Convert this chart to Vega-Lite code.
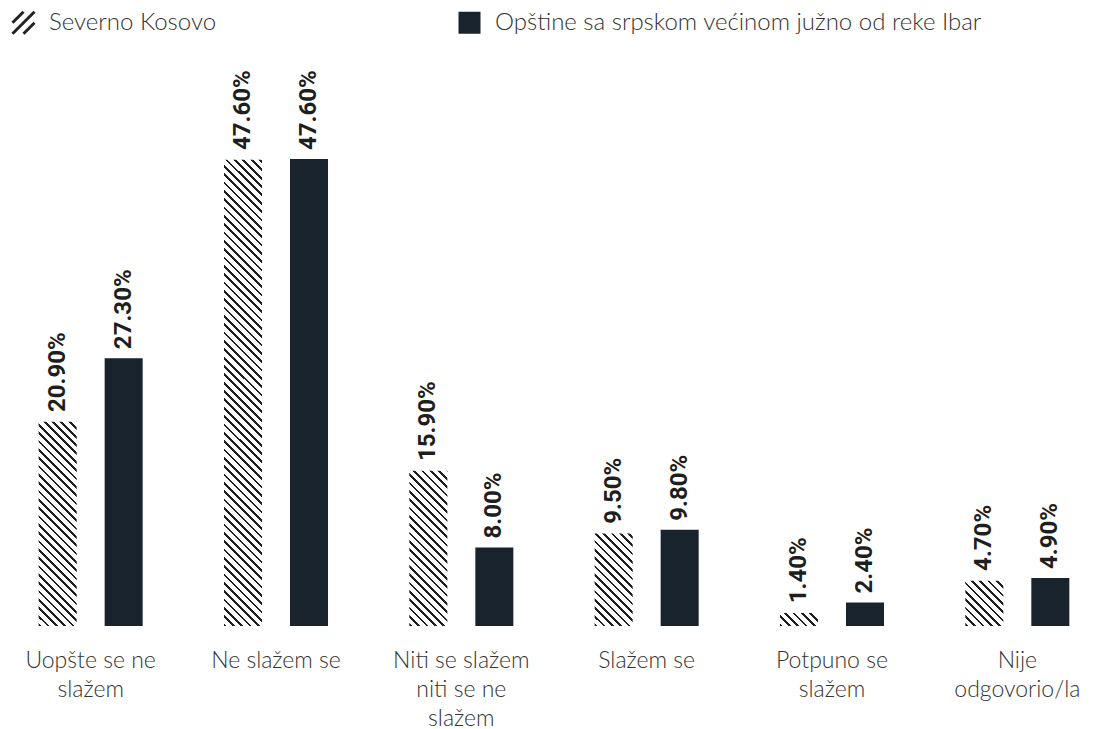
{
"$schema":"https://vega.github.io/schema/vega-lite/v6.json",
"width":1098,"height":626,
"autosize":{"type":"none"},
"padding":{"left":0,"top":0,"right":0,"bottom":103},
"background":"#ffffff",
"config":{"view":{"stroke":null}},
"data":{"values":[
{"cat":"Uopšte se ne slažem","series":"Severno Kosovo","value":20.9},
{"cat":"Uopšte se ne slažem","series":"Opštine sa srpskom većinom južno od reke Ibar","value":27.3},
{"cat":"Ne slažem se","series":"Severno Kosovo","value":47.6},
{"cat":"Ne slažem se","series":"Opštine sa srpskom većinom južno od reke Ibar","value":47.6},
{"cat":"Niti se slažem niti se ne slažem","series":"Severno Kosovo","value":15.9},
{"cat":"Niti se slažem niti se ne slažem","series":"Opštine sa srpskom većinom južno od reke Ibar","value":8.0},
{"cat":"Slažem se","series":"Severno Kosovo","value":9.5},
{"cat":"Slažem se","series":"Opštine sa srpskom većinom južno od reke Ibar","value":9.8},
{"cat":"Potpuno se slažem","series":"Severno Kosovo","value":1.4},
{"cat":"Potpuno se slažem","series":"Opštine sa srpskom većinom južno od reke Ibar","value":2.4},
{"cat":"Nije odgovorio/la","series":"Severno Kosovo","value":4.7},
{"cat":"Nije odgovorio/la","series":"Opštine sa srpskom većinom južno od reke Ibar","value":4.9}
]},
"encoding":{
"x":{"field":"cat","type":"nominal","sort":null,"title":null,
"scale":{"range":[-2,1110],"paddingInner":0,"paddingOuter":0},
"axis":{"domain":false,"ticks":false,"tickSize":0,"labelPadding":23,"labelAngle":0,"labelBaseline":"top","labelFont":"Lato","labelFontWeight":300,"labelFontSize":23,"labelColor":"#333333","labelLineHeight":29,"labelOverlap":false,"labelFlush":false,"labelBound":false,"labelLimit":400,
"labelExpr":"datum.label == 'Uopšte se ne slažem' ? ['Uopšte se ne', 'slažem'] : datum.label == 'Niti se slažem niti se ne slažem' ? ['Niti se slažem', 'niti se ne', 'slažem'] : datum.label == 'Potpuno se slažem' ? ['Potpuno se', 'slažem'] : datum.label == 'Nije odgovorio/la' ? ['Nije', 'odgovorio/la'] : datum.label"}},
"xOffset":{"field":"series","type":"nominal","sort":null,
"scale":{"domain":["Severno Kosovo","Opštine sa srpskom većinom južno od reke Ibar"],"paddingInner":0.424,"paddingOuter":0.616}}
},
"layer":[
{"transform":[{"filter":"datum.series === 'Severno Kosovo'"}],
"mark":{"type":"bar","fill":{"gradient":"linear","x1":0,"y1":1,"x2":0.08663,"y2":-0.07369,"stops":[
{"offset":0,"color":"#1e1e1e"},{"offset":0.00541,"color":"#1e1e1e"},{"offset":0.00541,"color":"#fff"},{"offset":0.01639,"color":"#fff"},
{"offset":0.01639,"color":"#1e1e1e"},{"offset":0.0218,"color":"#1e1e1e"},{"offset":0.0218,"color":"#fff"},{"offset":0.03279,"color":"#fff"},
{"offset":0.03279,"color":"#1e1e1e"},{"offset":0.0382,"color":"#1e1e1e"},{"offset":0.0382,"color":"#fff"},{"offset":0.04918,"color":"#fff"},
{"offset":0.04918,"color":"#1e1e1e"},{"offset":0.05459,"color":"#1e1e1e"},{"offset":0.05459,"color":"#fff"},{"offset":0.06557,"color":"#fff"},
{"offset":0.06557,"color":"#1e1e1e"},{"offset":0.07098,"color":"#1e1e1e"},{"offset":0.07098,"color":"#fff"},{"offset":0.08197,"color":"#fff"},
{"offset":0.08197,"color":"#1e1e1e"},{"offset":0.08738,"color":"#1e1e1e"},{"offset":0.08738,"color":"#fff"},{"offset":0.09836,"color":"#fff"},
{"offset":0.09836,"color":"#1e1e1e"},{"offset":0.10377,"color":"#1e1e1e"},{"offset":0.10377,"color":"#fff"},{"offset":0.11475,"color":"#fff"},
{"offset":0.11475,"color":"#1e1e1e"},{"offset":0.12016,"color":"#1e1e1e"},{"offset":0.12016,"color":"#fff"},{"offset":0.13115,"color":"#fff"},
{"offset":0.13115,"color":"#1e1e1e"},{"offset":0.13656,"color":"#1e1e1e"},{"offset":0.13656,"color":"#fff"},{"offset":0.14754,"color":"#fff"},
{"offset":0.14754,"color":"#1e1e1e"},{"offset":0.15295,"color":"#1e1e1e"},{"offset":0.15295,"color":"#fff"},{"offset":0.16393,"color":"#fff"},
{"offset":0.16393,"color":"#1e1e1e"},{"offset":0.16934,"color":"#1e1e1e"},{"offset":0.16934,"color":"#fff"},{"offset":0.18033,"color":"#fff"},
{"offset":0.18033,"color":"#1e1e1e"},{"offset":0.18574,"color":"#1e1e1e"},{"offset":0.18574,"color":"#fff"},{"offset":0.19672,"color":"#fff"},
{"offset":0.19672,"color":"#1e1e1e"},{"offset":0.20213,"color":"#1e1e1e"},{"offset":0.20213,"color":"#fff"},{"offset":0.21311,"color":"#fff"},
{"offset":0.21311,"color":"#1e1e1e"},{"offset":0.21852,"color":"#1e1e1e"},{"offset":0.21852,"color":"#fff"},{"offset":0.22951,"color":"#fff"},
{"offset":0.22951,"color":"#1e1e1e"},{"offset":0.23492,"color":"#1e1e1e"},{"offset":0.23492,"color":"#fff"},{"offset":0.2459,"color":"#fff"},
{"offset":0.2459,"color":"#1e1e1e"},{"offset":0.25131,"color":"#1e1e1e"},{"offset":0.25131,"color":"#fff"},{"offset":0.2623,"color":"#fff"},
{"offset":0.2623,"color":"#1e1e1e"},{"offset":0.26771,"color":"#1e1e1e"},{"offset":0.26771,"color":"#fff"},{"offset":0.27869,"color":"#fff"},
{"offset":0.27869,"color":"#1e1e1e"},{"offset":0.2841,"color":"#1e1e1e"},{"offset":0.2841,"color":"#fff"},{"offset":0.29508,"color":"#fff"},
{"offset":0.29508,"color":"#1e1e1e"},{"offset":0.30049,"color":"#1e1e1e"},{"offset":0.30049,"color":"#fff"},{"offset":0.31148,"color":"#fff"},
{"offset":0.31148,"color":"#1e1e1e"},{"offset":0.31689,"color":"#1e1e1e"},{"offset":0.31689,"color":"#fff"},{"offset":0.32787,"color":"#fff"},
{"offset":0.32787,"color":"#1e1e1e"},{"offset":0.33328,"color":"#1e1e1e"},{"offset":0.33328,"color":"#fff"},{"offset":0.34426,"color":"#fff"},
{"offset":0.34426,"color":"#1e1e1e"},{"offset":0.34967,"color":"#1e1e1e"},{"offset":0.34967,"color":"#fff"},{"offset":0.36066,"color":"#fff"},
{"offset":0.36066,"color":"#1e1e1e"},{"offset":0.36607,"color":"#1e1e1e"},{"offset":0.36607,"color":"#fff"},{"offset":0.37705,"color":"#fff"},
{"offset":0.37705,"color":"#1e1e1e"},{"offset":0.38246,"color":"#1e1e1e"},{"offset":0.38246,"color":"#fff"},{"offset":0.39344,"color":"#fff"},
{"offset":0.39344,"color":"#1e1e1e"},{"offset":0.39885,"color":"#1e1e1e"},{"offset":0.39885,"color":"#fff"},{"offset":0.40984,"color":"#fff"},
{"offset":0.40984,"color":"#1e1e1e"},{"offset":0.41525,"color":"#1e1e1e"},{"offset":0.41525,"color":"#fff"},{"offset":0.42623,"color":"#fff"},
{"offset":0.42623,"color":"#1e1e1e"},{"offset":0.43164,"color":"#1e1e1e"},{"offset":0.43164,"color":"#fff"},{"offset":0.44262,"color":"#fff"},
{"offset":0.44262,"color":"#1e1e1e"},{"offset":0.44803,"color":"#1e1e1e"},{"offset":0.44803,"color":"#fff"},{"offset":0.45902,"color":"#fff"},
{"offset":0.45902,"color":"#1e1e1e"},{"offset":0.46443,"color":"#1e1e1e"},{"offset":0.46443,"color":"#fff"},{"offset":0.47541,"color":"#fff"},
{"offset":0.47541,"color":"#1e1e1e"},{"offset":0.48082,"color":"#1e1e1e"},{"offset":0.48082,"color":"#fff"},{"offset":0.4918,"color":"#fff"},
{"offset":0.4918,"color":"#1e1e1e"},{"offset":0.49721,"color":"#1e1e1e"},{"offset":0.49721,"color":"#fff"},{"offset":0.5082,"color":"#fff"},
{"offset":0.5082,"color":"#1e1e1e"},{"offset":0.51361,"color":"#1e1e1e"},{"offset":0.51361,"color":"#fff"},{"offset":0.52459,"color":"#fff"},
{"offset":0.52459,"color":"#1e1e1e"},{"offset":0.53,"color":"#1e1e1e"},{"offset":0.53,"color":"#fff"},{"offset":0.54098,"color":"#fff"},
{"offset":0.54098,"color":"#1e1e1e"},{"offset":0.54639,"color":"#1e1e1e"},{"offset":0.54639,"color":"#fff"},{"offset":0.55738,"color":"#fff"},
{"offset":0.55738,"color":"#1e1e1e"},{"offset":0.56279,"color":"#1e1e1e"},{"offset":0.56279,"color":"#fff"},{"offset":0.57377,"color":"#fff"},
{"offset":0.57377,"color":"#1e1e1e"},{"offset":0.57918,"color":"#1e1e1e"},{"offset":0.57918,"color":"#fff"},{"offset":0.59016,"color":"#fff"},
{"offset":0.59016,"color":"#1e1e1e"},{"offset":0.59557,"color":"#1e1e1e"},{"offset":0.59557,"color":"#fff"},{"offset":0.60656,"color":"#fff"},
{"offset":0.60656,"color":"#1e1e1e"},{"offset":0.61197,"color":"#1e1e1e"},{"offset":0.61197,"color":"#fff"},{"offset":0.62295,"color":"#fff"},
{"offset":0.62295,"color":"#1e1e1e"},{"offset":0.62836,"color":"#1e1e1e"},{"offset":0.62836,"color":"#fff"},{"offset":0.63934,"color":"#fff"},
{"offset":0.63934,"color":"#1e1e1e"},{"offset":0.64475,"color":"#1e1e1e"},{"offset":0.64475,"color":"#fff"},{"offset":0.65574,"color":"#fff"},
{"offset":0.65574,"color":"#1e1e1e"},{"offset":0.66115,"color":"#1e1e1e"},{"offset":0.66115,"color":"#fff"},{"offset":0.67213,"color":"#fff"},
{"offset":0.67213,"color":"#1e1e1e"},{"offset":0.67754,"color":"#1e1e1e"},{"offset":0.67754,"color":"#fff"},{"offset":0.68852,"color":"#fff"},
{"offset":0.68852,"color":"#1e1e1e"},{"offset":0.69393,"color":"#1e1e1e"},{"offset":0.69393,"color":"#fff"},{"offset":0.70492,"color":"#fff"},
{"offset":0.70492,"color":"#1e1e1e"},{"offset":0.71033,"color":"#1e1e1e"},{"offset":0.71033,"color":"#fff"},{"offset":0.72131,"color":"#fff"},
{"offset":0.72131,"color":"#1e1e1e"},{"offset":0.72672,"color":"#1e1e1e"},{"offset":0.72672,"color":"#fff"},{"offset":0.7377,"color":"#fff"},
{"offset":0.7377,"color":"#1e1e1e"},{"offset":0.74311,"color":"#1e1e1e"},{"offset":0.74311,"color":"#fff"},{"offset":0.7541,"color":"#fff"},
{"offset":0.7541,"color":"#1e1e1e"},{"offset":0.75951,"color":"#1e1e1e"},{"offset":0.75951,"color":"#fff"},{"offset":0.77049,"color":"#fff"},
{"offset":0.77049,"color":"#1e1e1e"},{"offset":0.7759,"color":"#1e1e1e"},{"offset":0.7759,"color":"#fff"},{"offset":0.78689,"color":"#fff"},
{"offset":0.78689,"color":"#1e1e1e"},{"offset":0.7923,"color":"#1e1e1e"},{"offset":0.7923,"color":"#fff"},{"offset":0.80328,"color":"#fff"},
{"offset":0.80328,"color":"#1e1e1e"},{"offset":0.80869,"color":"#1e1e1e"},{"offset":0.80869,"color":"#fff"},{"offset":0.81967,"color":"#fff"},
{"offset":0.81967,"color":"#1e1e1e"},{"offset":0.82508,"color":"#1e1e1e"},{"offset":0.82508,"color":"#fff"},{"offset":0.83607,"color":"#fff"},
{"offset":0.83607,"color":"#1e1e1e"},{"offset":0.84148,"color":"#1e1e1e"},{"offset":0.84148,"color":"#fff"},{"offset":0.85246,"color":"#fff"},
{"offset":0.85246,"color":"#1e1e1e"},{"offset":0.85787,"color":"#1e1e1e"},{"offset":0.85787,"color":"#fff"},{"offset":0.86885,"color":"#fff"},
{"offset":0.86885,"color":"#1e1e1e"},{"offset":0.87426,"color":"#1e1e1e"},{"offset":0.87426,"color":"#fff"},{"offset":0.88525,"color":"#fff"},
{"offset":0.88525,"color":"#1e1e1e"},{"offset":0.89066,"color":"#1e1e1e"},{"offset":0.89066,"color":"#fff"},{"offset":0.90164,"color":"#fff"},
{"offset":0.90164,"color":"#1e1e1e"},{"offset":0.90705,"color":"#1e1e1e"},{"offset":0.90705,"color":"#fff"},{"offset":0.91803,"color":"#fff"},
{"offset":0.91803,"color":"#1e1e1e"},{"offset":0.92344,"color":"#1e1e1e"},{"offset":0.92344,"color":"#fff"},{"offset":0.93443,"color":"#fff"},
{"offset":0.93443,"color":"#1e1e1e"},{"offset":0.93984,"color":"#1e1e1e"},{"offset":0.93984,"color":"#fff"},{"offset":0.95082,"color":"#fff"},
{"offset":0.95082,"color":"#1e1e1e"},{"offset":0.95623,"color":"#1e1e1e"},{"offset":0.95623,"color":"#fff"},{"offset":0.96721,"color":"#fff"},
{"offset":0.96721,"color":"#1e1e1e"},{"offset":0.97262,"color":"#1e1e1e"},{"offset":0.97262,"color":"#fff"},{"offset":0.98361,"color":"#fff"},
{"offset":0.98361,"color":"#1e1e1e"},{"offset":0.98902,"color":"#1e1e1e"},{"offset":0.98902,"color":"#fff"},{"offset":1,"color":"#fff"}
]}},
"encoding":{
"y":{"datum":48,"type":"quantitative","scale":{"domain":[0,63.8]},"axis":null},
"y2":{"datum":0}
}},
{"transform":[{"filter":"datum.series === 'Severno Kosovo'"}],
"mark":{"type":"bar","fill":"#ffffff","stroke":"#ffffff","strokeWidth":1.5},
"encoding":{
"y":{"field":"value","type":"quantitative","scale":{"domain":[0,63.8]},"axis":null},
"y2":{"datum":48.5}
}},
{"transform":[{"filter":"datum.series !== 'Severno Kosovo'"}],
"mark":{"type":"bar"},
"encoding":{
"y":{"field":"value","type":"quantitative","scale":{"domain":[0,63.8]},"axis":null},
"color":{"field":"series","type":"nominal",
"scale":{"domain":["Severno Kosovo","Opštine sa srpskom većinom južno od reke Ibar"],"range":["#222222","#19232d"]},
"legend":{"orient":"none","legendX":11,"legendY":10,"direction":"horizontal","title":null,"symbolSize":484,"symbolStrokeWidth":3,"labelFont":"Lato","labelFontWeight":300,"labelFontSize":24,"labelColor":"#333333","labelOffset":13,"columnPadding":235,"labelLimit":700,
"encode":{"symbols":{"update":{
"shape":{"signal":"datum.value === 'Severno Kosovo' ? 'M-1,0L0,-1M-1,1L1,-1M0,1L1,0' : 'square'"},
"fill":{"signal":"datum.value === 'Severno Kosovo' ? 'transparent' : '#19232d'"},
"stroke":{"signal":"datum.value === 'Severno Kosovo' ? '#222222' : 'transparent'"},
"strokeWidth":{"value":3},
"opacity":{"value":1}
}}}}}
}},
{"transform":[{"calculate":"format(datum.value, '.2f') + '%'","as":"label"}],
"mark":{"type":"text","angle":270,"align":"left","baseline":"middle","dx":9,"font":"Roboto","fontWeight":"bold","fontSize":24,"color":"#1e1e1e"},
"encoding":{
"y":{"field":"value","type":"quantitative","scale":{"domain":[0,63.8]},"axis":null},
"text":{"field":"label","type":"nominal"}
}}
]
}
